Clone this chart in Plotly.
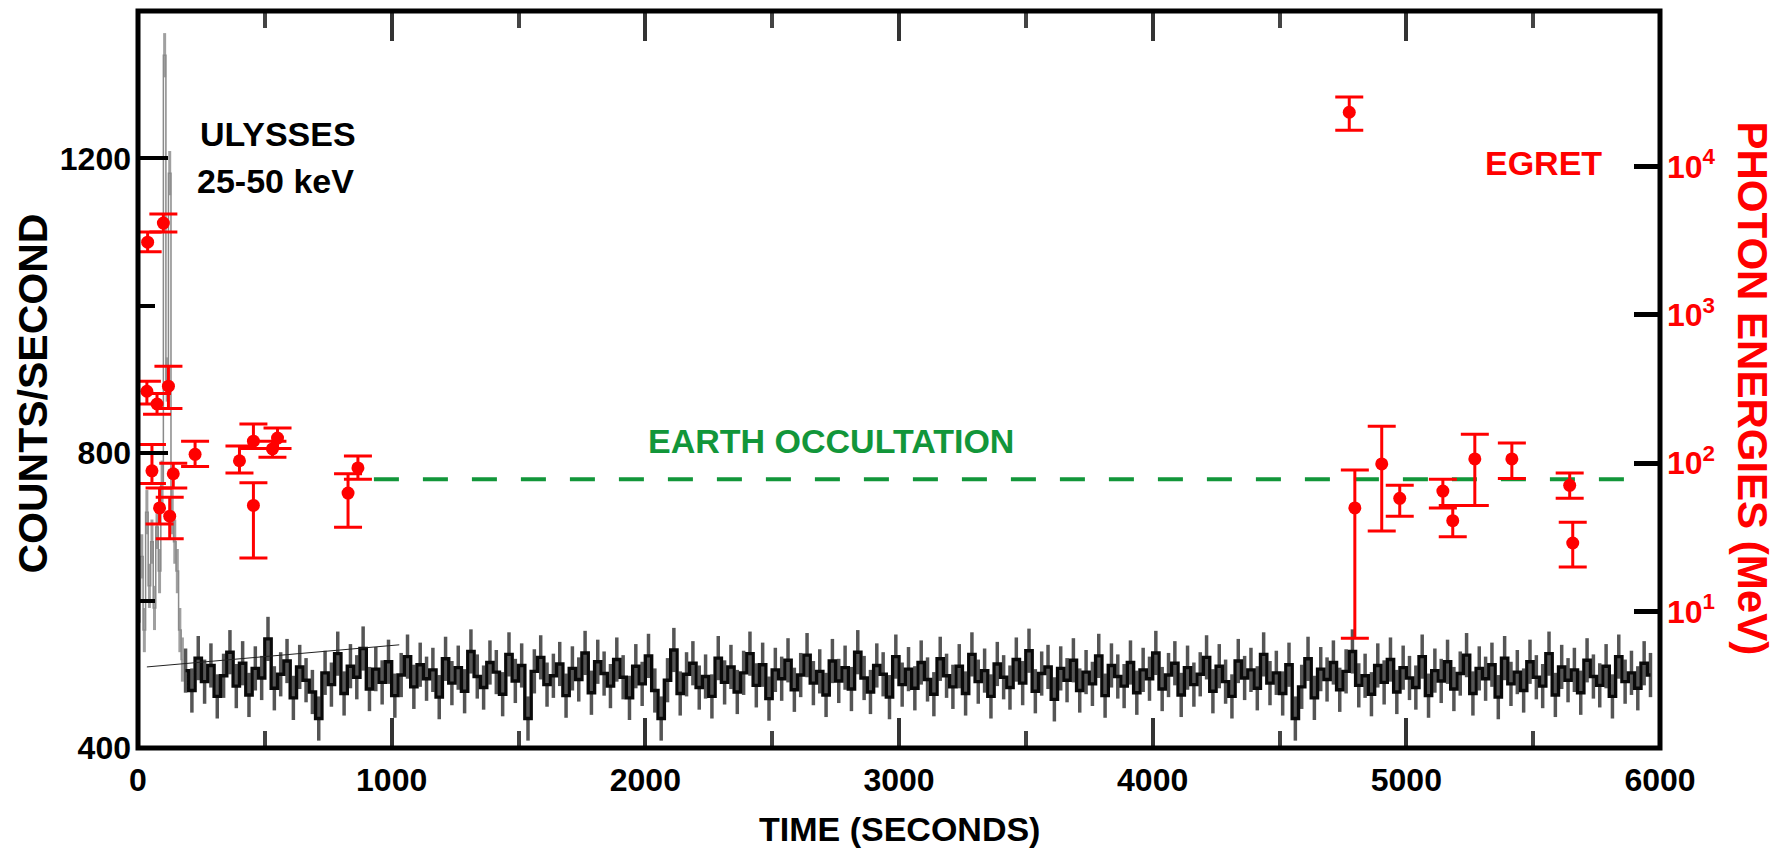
import numpy as np
import plotly.graph_objects as go

# ---------------- DATA ----------------
# Ulysses 25-50 keV light curve (counts/second)
ULY_EARLY_T = [5, 15, 25, 35, 45, 55, 65, 75, 85, 95, 105, 115, 125, 135, 145, 155, 165, 175]
ULY_EARLY_C = [600, 660, 560, 720, 620, 680, 590, 700, 640, 760, 1340, 900, 1180, 720, 680, 640, 560, 520]

ULY_T0 = 187.5     # first bin centre (s)
ULY_DT = 25.0      # bin width (s)
ULY_C = [
    505, 478, 522, 490, 512, 470, 498, 530, 484, 515, 472, 508, 495, 548, 481, 500, 518, 468, 510, 492,
    476, 440, 502, 486, 528, 474, 511, 496, 535, 480, 507, 489, 517, 471, 499, 524, 483, 513, 494, 506,
    469, 521, 488, 509, 477, 531, 497, 482, 516, 503, 473, 527, 491, 512, 440, 504, 523, 486, 498, 514,
    471, 508, 493, 529, 475, 517, 501, 484, 520, 496, 468, 511, 487, 525, 478, 440, 492, 533, 474, 500,
    515, 482, 497, 470, 522, 489, 510, 476, 502, 528, 485, 513, 467, 506, 494, 519, 479, 499, 526, 488,
    504, 472, 518, 491, 509, 480, 530, 495, 476, 512, 500, 469, 524, 486, 507, 481, 516, 493, 473, 521,
    498, 483, 511, 474, 527, 490, 505, 470, 514, 496, 482, 520, 488, 532, 477, 501, 510, 466, 508, 492,
    519, 478, 503, 487, 525, 471, 512, 497, 484, 516, 475, 506, 494, 529, 480, 499, 515, 472, 509, 486,
    500, 523, 477, 511, 490, 470, 518, 495, 506, 481, 527, 488, 502, 474, 513, 440, 483, 521, 468, 507,
    493, 516, 479, 504, 531, 485, 498, 473, 512, 489, 520, 476, 509, 495, 482, 524, 471, 505, 491, 517,
    480, 501, 526, 474, 508, 494, 513, 469, 522, 487, 503, 478, 517, 496, 484, 528, 472, 510, 492, 506,
    475, 519, 497, 485, 511, 470, 524, 490, 502, 481, 515, 499,
]
ULY_ERR = 30  # typical 1-sigma error on a bin (counts/s)

# background fit line drawn over the first 1000 s
BG_T = [35, 1030]
BG_C = [510, 540]

# EGRET photons: time (s), energy (MeV), upper and lower error limits (MeV)
EG_T = [38, 100, 35, 75, 120, 55, 139, 85, 125, 225, 400, 455, 455, 550, 530, 828, 867,
        4775, 4797, 4903, 4974, 5144, 5183, 5270, 5416, 5644, 5656]
EG_E = [3100, 4170, 306, 251, 331, 89, 85, 50, 44, 115, 104, 52, 141, 148, 125, 63, 93,
        23300, 50, 99, 58, 65, 41, 107, 107, 71, 29]
EG_HI = [3630, 4790, 357, 295, 451, 134, 100, 68, 59, 141, 131, 74, 184, 173, 141, 85, 112,
         29500, 90, 178, 71, 78, 52, 157, 137, 86, 40]
EG_LO = [2670, 3630, 251, 214, 234, 73, 68, 39, 31, 95, 86, 23, 126, 126, 110, 37, 78,
         17600, 6.6, 35, 44, 50, 32, 52, 79, 58, 20]

# Earth occultation interval (s) and level drawn (MeV)
OCC_T = [930, 5930]
OCC_E = [78, 78]

X_TICKS = [0, 1000, 2000, 3000, 4000, 5000, 6000]
Y_TICKS = [400, 800, 1200]
Y2_TICKS = [10, 100, 1000, 10000]
Y2_LABELS = ["10<sup>1</sup>", "10<sup>2</sup>", "10<sup>3</sup>", "10<sup>4</sup>"]

# ---------------- FIGURE ----------------
FONT = "Liberation Sans, Arial, Helvetica"
RED = "#ff0000"
GREEN = "#12963a"

uly_t = ULY_T0 + ULY_DT * np.arange(len(ULY_C))

fig = go.Figure()

fig.add_trace(go.Scatter(
    x=ULY_EARLY_T, y=ULY_EARLY_C, mode="lines", line=dict(color="#8a8a8a", width=1.5, shape="hvh"),
    error_y=dict(type="constant", value=ULY_ERR, color="#a0a0a0", thickness=3, width=0),
    showlegend=False, hoverinfo="skip"))
fig.add_trace(go.Scatter(
    x=uly_t, y=ULY_C, mode="lines", line=dict(color="#0a0a0a", width=3.4, shape="hvh"),
    error_y=dict(type="constant", value=ULY_ERR, color="#555555", thickness=3.5, width=0),
    showlegend=False, hoverinfo="skip"))
fig.add_trace(go.Scatter(
    x=BG_T, y=BG_C, mode="lines", line=dict(color="#222222", width=1),
    showlegend=False, hoverinfo="skip"))

fig.add_trace(go.Scatter(
    x=OCC_T, y=OCC_E, yaxis="y2", mode="lines",
    line=dict(color=GREEN, width=4, dash="25px,24px"),
    showlegend=False, hoverinfo="skip"))

eg_e = np.array(EG_E, dtype=float)
fig.add_trace(go.Scatter(
    x=EG_T, y=EG_E, yaxis="y2", mode="markers",
    marker=dict(color=RED, size=13),
    error_y=dict(type="data", symmetric=False,
                 array=np.array(EG_HI) - eg_e, arrayminus=eg_e - np.array(EG_LO),
                 color=RED, thickness=3, width=14),
    showlegend=False))

tick_font = dict(family=FONT, size=32, color="black", weight="bold")

fig.update_layout(
    width=1785, height=852,
    margin=dict(l=138, r=125, t=11, b=104),
    paper_bgcolor="white", plot_bgcolor="white",
    showlegend=False,
    xaxis=dict(range=[0, 6000], tickvals=X_TICKS, ticks="inside", ticklen=30, tickwidth=4,
               tickcolor="#333333", mirror="ticks", showline=False, showgrid=False, zeroline=False,
               tickfont=tick_font, ticklabelstandoff=10, automargin=False,
               minor=dict(dtick=500, ticks="inside", ticklen=17, tickwidth=4, tickcolor="#444444")),
    yaxis=dict(range=[400, 1400], tickvals=Y_TICKS, ticks="inside", ticklen=30, tickwidth=4,
               tickcolor="black", showgrid=False, zeroline=False, showline=False,
               tickfont=tick_font, ticklabelstandoff=6, automargin=False,
               minor=dict(dtick=200, ticks="inside", ticklen=17, tickwidth=4, tickcolor="black")),
    yaxis2=dict(type="log", range=[0.08, 5.05], overlaying="y", side="right", anchor="x",
                tickvals=Y2_TICKS, ticktext=Y2_LABELS, ticks="inside", ticklen=26, tickwidth=5,
                tickcolor="black", showgrid=False, zeroline=False, showline=False,
                tickfont=dict(family=FONT, size=32, color=RED, weight="bold"), ticklabelstandoff=6,
                automargin=False),
    shapes=[dict(type="rect", xref="paper", yref="paper", x0=0, x1=1, y0=0, y1=1,
                 line=dict(color="black", width=5), layer="above")],
)

ann = [
    dict(x=236, y=1233, xref="x", yref="y", text="ULYSSES", xanchor="left", yanchor="middle",
         font=dict(family=FONT, size=34, color="black"), showarrow=False),
    dict(x=225, y=1170, xref="x", yref="y", text="25-50 keV", xanchor="left", yanchor="middle",
         font=dict(family=FONT, size=34, color="black"), showarrow=False),
    dict(x=2731, y=816, xref="x", yref="y", text="EARTH OCCULTATION", xanchor="center", yanchor="middle",
         font=dict(family=FONT, size=34, color=GREEN), showarrow=False),
    dict(x=5542, y=1194, xref="x", yref="y", text="EGRET", xanchor="center", yanchor="middle",
         font=dict(family=FONT, size=34, color=RED), showarrow=False),
    dict(x=0.5, y=-0.11, xref="paper", yref="paper", text="TIME (SECONDS)", xanchor="center",
         yanchor="middle", font=dict(family=FONT, size=34, color="black"), showarrow=False),
    dict(x=-0.069, y=0.481, xref="paper", yref="paper", text="COUNTS/SECOND", textangle=-90,
         xanchor="center", yanchor="middle", font=dict(family=FONT, size=41, color="black"),
         showarrow=False),
    dict(x=1.061, y=0.488, xref="paper", yref="paper", text="PHOTON ENERGIES (MeV)", textangle=90,
         xanchor="center", yanchor="middle", font=dict(family=FONT, size=42, color=RED),
         showarrow=False),
]
for a in ann:
    a["text"] = "<b>" + a["text"] + "</b>"
fig.update_layout(annotations=ann)

fig.write_html("out.html", config={"displayModeBar": False},
               post_script="document.body.style.margin='0px';document.body.style.overflow='hidden';")
